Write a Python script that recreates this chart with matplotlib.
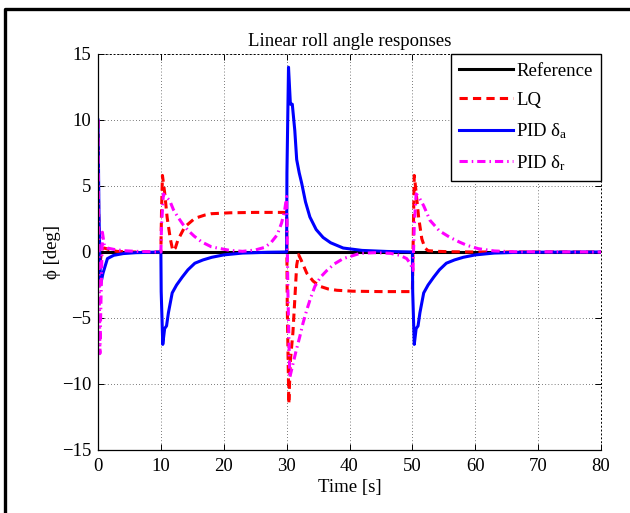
import matplotlib
matplotlib.use("Agg")
import matplotlib.pyplot as plt
from matplotlib.lines import Line2D

plt.rcParams['font.family'] = ['Liberation Serif', 'DejaVu Serif']
plt.rcParams['mathtext.fontset'] = 'custom'
plt.rcParams['mathtext.rm'] = 'Liberation Serif'
plt.rcParams['mathtext.it'] = 'Liberation Serif:italic'

# values
t_ref = [0, 80]
phi_ref = [0, 0]

t_lq = [0, 0.1, 0.3, 0.6, 1, 2, 3, 5, 10, 10.1, 10.25, 10.6, 11, 11.5, 11.9, 12.3,
        12.7, 13.8, 15.4, 17, 18, 21, 25, 30, 30.1, 30.35, 30.6, 31, 31.3, 31.6,
        31.9, 32.3, 33.2, 34.2, 35.3, 36.6, 38, 40.5, 45, 50, 50.1, 50.3, 50.6,
        51, 51.5, 52, 52.5, 54, 56, 60, 80]
phi_lq = [10, 3, -1, 0.2, 0.3, 0.15, 0.05, 0, 0, 3, 5.8, 4.5, 2.6, 1.0, 0.1, 0.3,
          0.9, 1.9, 2.55, 2.8, 2.9, 2.97, 3, 3, -4, -11.5, -8.2, -6.1, -3.6, -1.0,
          -0.2, -0.6, -1.6, -2.2, -2.6, -2.8, -2.9, -2.97, -3, -3, 0, 5.8, 4.5,
          2.6, 1.0, 0.3, 0.1, 0.05, 0.02, 0, 0]

t_pid_a = [0, 0.15, 0.4, 0.8, 1.5, 2.5, 4, 6, 10, 10.05, 10.3, 10.6, 10.9, 11.2,
           11.8, 12.5, 13.4, 14.3, 15.4, 16.7, 18.1, 20, 23, 27, 30, 30.05, 30.3,
           30.6, 30.9, 31.3, 31.6, 32, 32.4, 33, 33.7, 34.7, 35.8, 37, 39, 42, 46,
           50, 50.05, 50.3, 50.6, 50.9, 51.2, 51.8, 52.5, 53.4, 54.3, 55.4, 56.7,
           58.1, 60, 63, 67, 80]
phi_pid_a = [10, 3, -2.5, -1.6, -0.5, -0.25, -0.12, -0.05, 0, -3, -7, -5.8, -5.6,
             -4.6, -3.1, -2.5, -1.9, -1.35, -0.85, -0.6, -0.4, -0.22, -0.08, -0.02,
             0, 6, 14, 11.2, 11.2, 9.2, 7, 6, 5.2, 3.8, 2.65, 1.7, 1.1, 0.7, 0.3,
             0.12, 0.04, 0, -3, -7, -5.8, -5.6, -4.6, -3.1, -2.5, -1.9, -1.35,
             -0.85, -0.6, -0.4, -0.22, -0.08, -0.02, 0]

t_pid_r = [0, 0.1, 0.3, 0.5, 0.7, 1.0, 1.5, 2.5, 4, 6, 10, 10.1, 10.4, 10.8, 11.4,
           12.0, 12.7, 13.5, 14.3, 15.3, 16.5, 18, 19, 21, 23, 25, 26.5, 27.5,
           28.5, 29.2, 29.7, 30, 30.2, 30.5, 31, 31.5, 32.1, 32.6, 33.2, 33.8,
           34.5, 35.4, 36.4, 37.6, 39, 41.7, 44, 46.5, 48, 49.1, 49.7, 50.1, 50.3,
           50.6, 51, 51.8, 52.8, 54.3, 56, 57.5, 58.7, 60.5, 63, 66, 80]
phi_pid_r = [10, 2, -7.7, -3, 1.5, 0.5, 0.3, 0.2, 0.1, 0.05, 0, 2, 4.4, 4.2, 3.9,
             3.2, 2.65, 2.1, 1.65, 1.2, 0.76, 0.4, 0.3, 0.12, 0.05, 0.15, 0.35,
             0.7, 1.3, 2.2, 3.2, 4.2, -3, -9.5, -8.5, -7.5, -6.4, -5.4, -4.4, -3.5,
             -2.6, -1.9, -1.4, -0.9, -0.5, -0.1, -0.05, -0.1, -0.25, -0.5, -0.9,
             -1.4, 2, 4.4, 4.2, 3.5, 2.4, 1.6, 1.1, 0.75, 0.5, 0.25, 0.08, 0.02, 0]

x_ticks = [0, 10, 20, 30, 40, 50, 60, 70, 80]
y_ticks = [-15, -10, -5, 0, 5, 10, 15]

fig = plt.figure(figsize=(6.3, 5.13), dpi=100)
ax = fig.add_axes([98 / 630, 1 - 450 / 513, 503 / 630, 396 / 513])

ax.plot(t_ref, phi_ref, color='black', lw=2.2, label='Reference')
ax.plot(t_lq, phi_lq, color='red', lw=2.2, dashes=(2.7, 1.7), label='LQ')
ax.plot(t_pid_a, phi_pid_a, color='blue', lw=2.2, label=r'PID δ$_{\mathrm{a}}$')
ax.plot(t_pid_r, phi_pid_r, color='magenta', lw=2.2, dashes=(2.7, 1.3, 0.5, 1.3),
        label=r'PID δ$_{\mathrm{r}}$')

ax.set_xlim(0, 80)
ax.set_ylim(-15, 15)
ax.set_xticks(x_ticks)
ax.set_yticks(y_ticks)
ax.set_yticklabels(['\u221215', '\u221210', '\u22125', '0', '5', '10', '15'])
ax.tick_params(direction='in', top=True, right=True, labelsize=13.5, length=4,
               width=0.7)
ax.tick_params(axis='y', pad=5)
ax.tick_params(axis='x', pad=6)
ax.grid(True, color='black', linestyle=(0, (1, 3.5)), linewidth=0.5)
for side in ['left', 'bottom']:
    ax.spines[side].set_linewidth(0.9)
for side in ['top', 'right']:
    ax.spines[side].set_linestyle((0, (1, 3)))
    ax.spines[side].set_linewidth(0.7)

ax.set_title('Linear roll angle responses', fontsize=13.5, pad=6)
ax.set_xlabel('Time [s]', fontsize=13.5, labelpad=3)
ax.set_ylabel('\u03d5 [deg]', fontsize=13.5)
ax.yaxis.set_label_coords(-0.074, 0.5)

leg = ax.legend(loc='upper right', borderaxespad=0, fontsize=13.5, fancybox=False,
                framealpha=1, edgecolor='black', handlelength=2.9,
                handletextpad=0.15, labelspacing=0.65, borderpad=0.45)
leg.get_frame().set_linewidth(1.0)

# black frame of the cropped figure
fig.add_artist(Line2D([5 / 630, 5 / 630, 1.05], [-0.05, 1 - 8.5 / 513, 1 - 8.5 / 513],
                      transform=fig.transFigure, color='black', lw=2.4))

fig.savefig('out.png', dpi=100)
